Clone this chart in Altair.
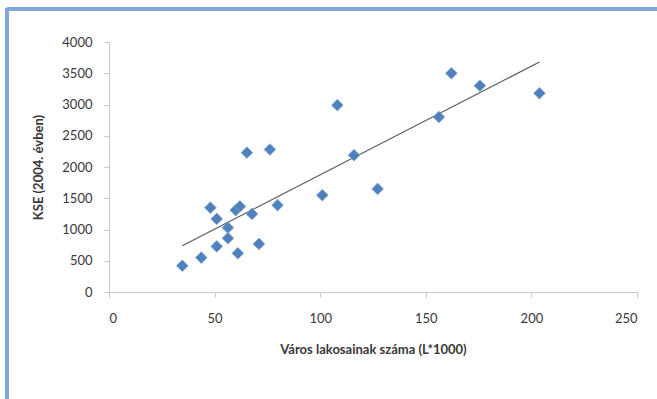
import altair as alt
import pandas as pd

# Population of each town (thousands) and KSE value in 2004
lakosok = [34.7, 43.7, 48, 51, 51, 56.3, 56.3, 60, 62, 61, 67.7, 65.3, 71,
           76.2, 79.8, 101, 108.1, 116, 127.2, 156.2, 162.1, 175.6, 203.8]
kse = [420, 550, 1350, 1170, 730, 1030, 860, 1310, 1370, 620, 1250, 2230, 770,
       2280, 1390, 1550, 2990, 2190, 1650, 2800, 3500, 3300, 3180]

x_ticks = [0, 50, 100, 150, 200, 250]
y_ticks = [0, 500, 1000, 1500, 2000, 2500, 3000, 3500, 4000]

df = pd.DataFrame({"lakosok": lakosok, "kse": kse})

FONT = "Lato"
TEXT = "#383838"
AXIS = "#C8C8C8"

x_enc = alt.X(
    "lakosok:Q",
    scale=alt.Scale(domain=[0, 250], nice=False),
    axis=alt.Axis(values=x_ticks, title="Város lakosainak száma (L*1000)",
                  format="d", titlePadding=18, labelPadding=15,
                  labelOverlap=False),
)
y_enc = alt.Y(
    "kse:Q",
    scale=alt.Scale(domain=[0, 4000], nice=False),
    axis=alt.Axis(values=y_ticks, title="KSE (2004. évben)", format="d",
                  titlePadding=16, labelPadding=12, labelOverlap=False),
)

points = alt.Chart(df).mark_point(
    shape="diamond", filled=True, size=135, color="#4F81BD",
    stroke="#7C9FD0", strokeWidth=0.8, opacity=1,
).encode(x=x_enc, y=y_enc)

trend = alt.Chart(df).transform_regression(
    "lakosok", "kse"
).mark_line(color="#5A5A5A", strokeWidth=1.2).encode(x=x_enc, y=y_enc)

# Frame lines along the top and left edge of the chart box
frame_top = alt.Chart(df).mark_rule(color="#7FA6DA", strokeWidth=2.5).encode(
    x=alt.value(-102), x2=alt.value(560), y=alt.value(-33)
)
frame_left = alt.Chart(df).mark_rule(color="#7FA6DA", strokeWidth=2.5).encode(
    x=alt.value(-102), y=alt.value(-34), y2=alt.value(370)
)

chart = alt.layer(frame_top, frame_left, trend, points).properties(
    width=528, height=250,
    autosize=alt.AutoSizeParams(type="none"),
    padding={"left": 109, "top": 42, "right": 20, "bottom": 107},
).configure_view(stroke=None).configure_axis(
    grid=False, domainColor=AXIS, tickColor=AXIS, tickSize=5,
    labelFont=FONT, labelFontSize=13, labelColor=TEXT,
    titleFont=FONT, titleFontSize=13, titleFontWeight="bold", titleColor=TEXT,
)

chart.save("out.html", embed_options={"renderer": "svg", "actions": False})
